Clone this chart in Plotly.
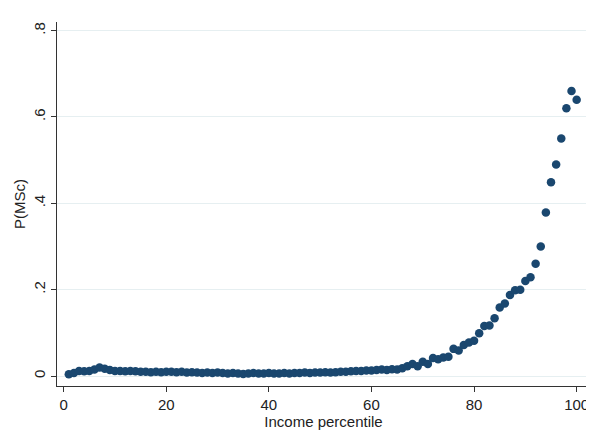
import plotly.graph_objects as go

percentile = list(range(1, 101))
p_msc = [
    0.004, 0.007, 0.012, 0.011, 0.012, 0.015, 0.020, 0.017, 0.014, 0.012,
    0.012, 0.011, 0.012, 0.011, 0.010, 0.010, 0.009, 0.010, 0.009, 0.010,
    0.010, 0.009, 0.010, 0.008, 0.009, 0.008, 0.007, 0.008, 0.007, 0.008,
    0.007, 0.006, 0.007, 0.006, 0.005, 0.006, 0.007, 0.006, 0.006, 0.007,
    0.006, 0.006, 0.007, 0.006, 0.007, 0.007, 0.008, 0.007, 0.008, 0.008,
    0.009, 0.008, 0.009, 0.010, 0.010, 0.011, 0.012, 0.012, 0.013, 0.013,
    0.014, 0.015, 0.014, 0.016, 0.015, 0.018, 0.023, 0.028, 0.023, 0.033,
    0.028, 0.042, 0.039, 0.043, 0.045, 0.063, 0.059, 0.072, 0.078, 0.082,
    0.099, 0.116, 0.117, 0.134, 0.159, 0.168, 0.188, 0.199, 0.200, 0.220,
    0.229, 0.260, 0.300, 0.379, 0.449, 0.490, 0.550, 0.620, 0.660, 0.640,
]
x_ticks = [0, 20, 40, 60, 80, 100]
y_ticks = [0, 0.2, 0.4, 0.6, 0.8]
y_tick_labels = ["0", ".2", ".4", ".6", ".8"]

fig = go.Figure(go.Scatter(
    x=percentile, y=p_msc, mode="markers",
    marker=dict(color="#1a476f", size=8.5, line=dict(width=0)),
))

font = dict(family="Liberation Sans, Arial, sans-serif", size=15, color="#222222")

fig.update_layout(
    width=586, height=433,
    margin=dict(l=49, r=4, t=14, b=55),
    paper_bgcolor="white", plot_bgcolor="white",
    font=font, showlegend=False,
)
fig.update_xaxes(
    range=[-1.3, 102.6], tickvals=x_ticks, showgrid=False, zeroline=False,
    showline=True, linecolor="#333333", linewidth=1,
    ticks="outside", ticklen=5, tickcolor="#333333",
    title=dict(text="Income percentile", standoff=2, font=font),
)
fig.update_yaxes(
    range=[-0.023, 0.82], tickvals=y_ticks, ticktext=y_tick_labels,
    tickangle=-90, showgrid=True, gridcolor="#e6eff1", gridwidth=1,
    zeroline=False, showline=True, linecolor="#333333", linewidth=1,
    ticks="outside", ticklen=5, tickcolor="#333333",
    title=dict(text="P(MSc)", standoff=1, font=font),
)

fig.write_html("out.html")
